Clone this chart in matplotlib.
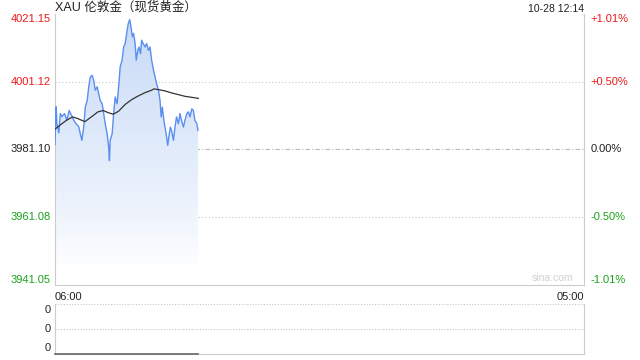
import numpy as np
import matplotlib
matplotlib.use("Agg")
import matplotlib.pyplot as plt
from matplotlib.patches import Polygon

plt.rcParams['font.family'] = ['Liberation Sans', 'Noto Sans CJK SC', 'DejaVu Sans']

# 数据：分钟（自06:00起）与价格
prev_close = 3981.10
y_ticks = [4021.15, 4001.12, 3981.10, 3961.08, 3941.05]
pct_labels = ["+1.01%", "+0.50%", "0.00%", "-0.50%", "-1.01%"]

price_min = [0, 3, 5, 10, 14, 18, 25, 31, 37, 43, 49, 55, 62, 66, 70, 75, 79, 84,
             88, 92, 97, 101, 105, 110, 114, 118, 123, 127, 131, 136, 140, 142, 144,
             149, 153, 157, 162, 166, 170, 175, 179, 183, 187, 191, 195, 198, 202,
             205, 209, 212, 216, 219, 223, 226, 230, 235, 239, 244, 248, 252, 257,
             261, 265, 270, 274, 277, 280, 284, 287, 290, 294, 297, 301, 304, 309,
             313, 317, 322, 326, 330, 335, 339, 344, 348, 352, 357, 361, 365, 370, 373]
price_val = [3982.5, 3993.7, 3988.7, 3986.0, 3991.7, 3990.8, 3991.7, 3989.7, 3992.6,
             3991.2, 3989.7, 3988.7, 3987.8, 3985.7, 3983.8, 3987.8, 3993.6, 3995.6,
             3999.6, 4002.5, 4003.0, 4001.5, 3998.6, 3999.6, 3997.6, 3995.6, 3994.6,
             3991.7, 3988.7, 3985.7, 3981.8, 3977.8, 3983.8, 3985.7, 3991.7, 3996.6,
             3994.6, 3999.6, 4005.5, 4007.5, 4011.4, 4012.4, 4015.4, 4018.3, 4019.5,
             4017.4, 4014.4, 4015.4, 4012.4, 4007.5, 4010.4, 4011.4, 4009.4, 4013.4,
             4012.4, 4011.4, 4012.4, 4010.4, 4011.4, 4007.5, 4004.5, 4002.5, 4000.6,
             3998.6, 3995.6, 3990.7, 3993.6, 3989.7, 3987.7, 3985.7, 3982.3, 3984.8,
             3987.7, 3986.7, 3983.8, 3987.7, 3990.7, 3988.7, 3991.7, 3989.7, 3987.7,
             3989.7, 3991.7, 3992.2, 3990.7, 3993.1, 3992.6, 3989.7, 3988.7, 3986.7]

avg_min = [1, 18, 31, 46, 60, 78, 97, 112, 126, 138, 152, 166, 183, 201, 217, 235,
           252, 258, 269, 287, 304, 322, 339, 357, 374]
avg_val = [3987.2, 3988.7, 3989.8, 3990.7, 3990.2, 3989.3, 3990.9, 3992.2, 3992.6,
           3992.0, 3991.5, 3992.4, 3994.4, 3995.9, 3996.9, 3997.9, 3998.6, 3999.0,
           3998.8, 3998.4, 3997.8, 3997.3, 3996.8, 3996.5, 3996.2]

vol_min = [0, 374]
vol_val = [0, 0]

total_min = 1380  # 06:00 -> 次日05:00

line_c = '#5a8ff0'
red = '#f01818'
green = '#19a319'

fig = plt.figure(figsize=(6.4, 3.6), dpi=100)
ax = fig.add_axes([55/640, (360-284.8)/360, 529/640, 270.8/360])
ax.set_xlim(0, total_min)
ax.set_ylim(y_ticks[-1], y_ticks[0])

# 渐变填充
xs = np.array(price_min, dtype=float)
ys = np.array(price_val)
verts = [(xs[0], y_ticks[-1])] + list(zip(xs, ys)) + [(xs[-1], y_ticks[-1])]
poly = Polygon(verts, closed=True, facecolor='none', edgecolor='none')
ax.add_patch(poly)
grad = np.linspace(0, 1, 256).reshape(-1, 1) ** 0.8
cmap = matplotlib.colors.LinearSegmentedColormap.from_list('g', ['#ffffff', '#c9dbf7'])
im = ax.imshow(grad, cmap=cmap, aspect='auto', origin='lower',
               extent=[xs[0], xs[-1], y_ticks[-1] + 5, max(ys)], zorder=1)
im.set_clip_path(poly)

ax.plot(price_min, price_val, color=line_c, lw=1.0, zorder=3)
ax.plot(avg_min, avg_val, color='#333333', lw=0.9, zorder=4)

for v in [y_ticks[1], y_ticks[3]]:
    ax.axhline(v, color='#c8c8c8', lw=0.8, ls=(0, (1, 2)), zorder=0)
ax.axhline(prev_close, color='#b8b8b8', lw=0.8, ls=(0, (4, 2, 1, 2)), zorder=0)

ax.set_xticks([])
ax.set_yticks([])
for s in ['left', 'right', 'bottom']:
    ax.spines[s].set_color('#cccccc')
    ax.spines[s].set_linewidth(0.8)
ax.spines['top'].set_visible(False)

# 左侧价格标签
cols = [red, red, '#222222', green, green]
vas = ['top', 'center', 'center', 'center', 'bottom']
for v, c, va, p in zip(y_ticks, cols, vas, pct_labels):
    ax.text(-0.008, v, f"{v:.2f}", color=c, fontsize=8, ha='right', va=va,
            transform=ax.get_yaxis_transform())
    ax.text(1.012, v, p, color=c, fontsize=8, ha='left', va=va,
            transform=ax.get_yaxis_transform())

ax.text(0.0, 1.0, "XAU 伦敦金（现货黄金）", transform=ax.transAxes, fontsize=9,
        ha='left', va='bottom', color='#222222')
ax.text(1.0, 1.0, "10-28 12:14", transform=ax.transAxes, fontsize=7.5,
        ha='right', va='bottom', color='#222222')
ax.text(0.98, 0.005, "sina.com", transform=ax.transAxes, fontsize=7.5,
        ha='right', va='bottom', color='#d0d0d0')
ax.text(0.0, -0.025, "06:00", transform=ax.transAxes, fontsize=8,
        ha='left', va='top', color='#222222')
ax.text(1.0, -0.025, "05:00", transform=ax.transAxes, fontsize=8,
        ha='right', va='top', color='#222222')

# 成交量面板
ax2 = fig.add_axes([55/640, 6/360, 529/640, 50/360])
ax2.set_xlim(0, total_min)
ax2.set_ylim(0, 1)
ax2.plot(vol_min, vol_val, color='#666666', lw=1.2, clip_on=False, zorder=3)
ax2.axhline(1, color='#c8c8c8', lw=0.8, ls=(0, (1, 1.5)))
ax2.axhline(0.5, color='#c8c8c8', lw=0.8, ls=(0, (1, 1.5)))
ax2.set_xticks([])
ax2.set_yticks([])
ax2.spines['top'].set_visible(False)
for s in ['left', 'right', 'bottom']:
    ax2.spines[s].set_color('#cccccc')
    ax2.spines[s].set_linewidth(0.8)
for yy in [0.88, 0.5, 0.12]:
    ax2.text(-0.008, yy, "0", transform=ax2.transAxes, fontsize=8,
             ha='right', va='center', color='#222222')

fig.savefig("out.png", dpi=100)
